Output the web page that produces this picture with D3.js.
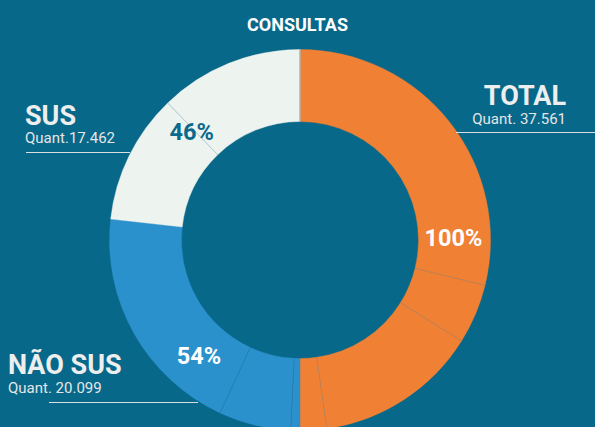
<!DOCTYPE html>
<html><head><meta charset="utf-8">
<script src="https://cdn.jsdelivr.net/npm/d3@7"></script>
<style>
html,body{margin:0;padding:0;background:#07688A;}
svg{display:block;font-family:Roboto,"Noto Sans",sans-serif;}
</style></head>
<body>
<script>
// ---- data ----
const title = "CONSULTAS";
const groups = ["TOTAL", "NÃO SUS", "SUS"];
const groupTotals = [37561, 20099, 17462];
const groupQuantLabels = ["Quant. 37.561", "Quant. 20.099", "Quant.17.462"];
const groupPercents = ["100%", "54%", "46%"];
// sub-slices that make up each group
const subTotal = [21660, 3798, 10413, 1690];
const subNaoSus = [584, 4591, 14924];
const subSus = [8284, 9178];

// ---- layout ----
const W = 595, H = 427;
const cx = 300, cy = 240, rOuter = 190.5, rInner = 118.5;
const colors = {"TOTAL": "#F08033", "NÃO SUS": "#2B91CC", "SUS": "#EDF3EE"};
const divColors = {"TOTAL": "#9A8678", "NÃO SUS": "#2279AE", "SUS": "#A3BFCB"};
const pctColors = {"TOTAL": "#FFFFFF", "NÃO SUS": "#FFFFFF", "SUS": "#0B6A8C"};
const pctAngleOffset = {"TOTAL": -1, "NÃO SUS": -7, "SUS": -3}; // degrees from group centroid

const slices = [];
subTotal.forEach(v => slices.push({group: "TOTAL", value: v}));
subNaoSus.forEach(v => slices.push({group: "NÃO SUS", value: v}));
subSus.forEach(v => slices.push({group: "SUS", value: v}));

const svg = d3.select("body").append("svg").attr("width", W).attr("height", H);
svg.append("rect").attr("width", W).attr("height", H).attr("fill", "#07688A");

svg.append("text").attr("x", 297.5).attr("y", 31).attr("text-anchor", "middle")
  .attr("fill", "#FFFFFF").attr("font-weight", 700).attr("font-size", 18).text(title);

const pie = d3.pie().value(d => d.value).sort(null).startAngle(0).endAngle(2 * Math.PI);
const arcs = pie(slices);
const arc = d3.arc().innerRadius(rInner).outerRadius(rOuter);
const g = svg.append("g").attr("transform", `translate(${cx},${cy})`);

g.selectAll("path.slice").data(arcs).join("path").attr("class", "slice")
  .attr("d", arc).attr("fill", d => colors[d.data.group])
  .attr("stroke", d => colors[d.data.group]).attr("stroke-width", 0.4);

// divider lines inside groups
arcs.forEach((d, i) => {
  const prev = i === 0 ? arcs[arcs.length - 1] : arcs[i - 1];
  let col;
  if (prev.data.group === d.data.group) col = divColors[d.data.group];
  else if (i === 0) col = "#A4A9A6";
  else return;
  const a = d.startAngle;
  g.append("line")
    .attr("x1", rInner * Math.sin(a)).attr("y1", -rInner * Math.cos(a))
    .attr("x2", rOuter * Math.sin(a)).attr("y2", -rOuter * Math.cos(a))
    .attr("stroke", col).attr("stroke-width", i === 0 ? 1.2 : 0.7)
    .attr("stroke-dasharray", d.data.group === "TOTAL" && i !== 0 ? "2,1" : null);
});

// percent labels at mid radius near group centroid
const rMid = (rInner + rOuter) / 2 - 1;
groups.forEach((gName, gi) => {
  const ga = arcs.filter(d => d.data.group === gName);
  const a0 = ga[0].startAngle, a1 = ga[ga.length - 1].endAngle;
  const a = (a0 + a1) / 2 + pctAngleOffset[gName] * Math.PI / 180;
  g.append("text").attr("x", rMid * Math.sin(a)).attr("y", -rMid * Math.cos(a))
    .attr("text-anchor", "middle").attr("dy", "0.36em")
    .attr("fill", pctColors[gName]).attr("font-weight", 700).attr("font-size", 23.5)
    .text(groupPercents[gi]);
});

// side labels
const lab = [
  {gi: 0, x: 566, anchor: "end", y: 105, qx: 566, qy: 124, lx1: 456, lx2: 595, ly: 132.5},
  {gi: 1, x: 8, anchor: "start", y: 374, qx: 8, qy: 393, lx1: 49, lx2: 198, ly: 402.5},
  {gi: 2, x: 25, anchor: "start", y: 125, qx: 25, qy: 143, lx1: 26, lx2: 130, ly: 152.5}
];
lab.forEach(l => {
  svg.append("text").attr("x", l.x).attr("y", l.y).attr("text-anchor", l.anchor)
    .attr("fill", "#EEEEEE").attr("font-weight", 700).attr("font-size", 27)
    .text(groups[l.gi]);
  svg.append("text").attr("x", l.qx).attr("y", l.qy).attr("text-anchor", l.anchor)
    .attr("fill", "#E6E6E6").attr("font-size", 15)
    .text(groupQuantLabels[l.gi]);
  svg.append("line").attr("x1", l.lx1).attr("x2", l.lx2).attr("y1", l.ly).attr("y2", l.ly)
    .attr("stroke", "#D8DEE2").attr("stroke-width", 1.1);
});
</script>
</body></html>
